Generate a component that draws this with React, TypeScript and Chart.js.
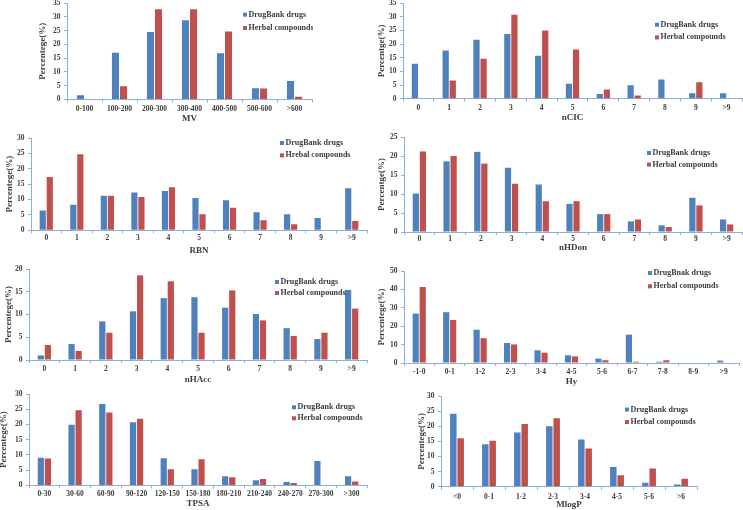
import React, { useEffect, useRef } from "react";
import { Chart, registerables } from "chart.js";

Chart.register(...registerables);

// ---------- data ----------
const DRUG_LABEL = "DrugBank drugs";
const HERB_LABEL = "Herbal compounds";

const mvCats = ["0-100", "100-200", "200-300", "300-400", "400-500", "500-600", ">600"];
const mvDrug = [1.5, 17.0, 24.5, 28.7, 16.8, 4.1, 6.7];
const mvHerb = [0, 4.8, 32.7, 32.7, 24.7, 4.0, 1.0];

const numCats = ["0", "1", "2", "3", "4", "5", "6", "7", "8", "9", ">9"];

const ncicDrug = [12.8, 17.6, 21.6, 23.7, 15.7, 5.5, 1.7, 4.9, 7.0, 2.0, 2.0];
const ncicHerb = [0, 6.7, 14.6, 30.7, 24.9, 18.0, 3.4, 1.2, 0, 6.0, 0];

const rbnDrug = [6.4, 8.3, 11.2, 12.3, 12.8, 10.5, 9.8, 5.9, 5.2, 4.0, 13.7];
const rbnHerb = [17.3, 24.7, 11.2, 10.8, 14.0, 5.2, 7.3, 3.3, 2.0, 0, 3.0];

const nhdonDrug = [10.1, 18.6, 21.1, 16.9, 12.5, 7.4, 4.7, 2.8, 1.75, 9.0, 3.3];
const nhdonHerb = [21.2, 20.0, 18.0, 12.7, 8.1, 8.1, 4.7, 3.3, 1.3, 7.0, 2.0];

const nhaccDrug = [1.0, 3.5, 8.5, 10.7, 13.6, 13.8, 11.5, 10.1, 7.0, 4.6, 15.4];
const nhaccHerb = [3.3, 2.0, 6.0, 18.6, 17.3, 6.0, 15.3, 8.7, 5.3, 6.0, 11.3];

const hyCats = ["-1-0", "0-1", "1-2", "2-3", "3-4", "4-5", "5-6", "6-7", "7-8", "8-9", ">9"];
const hyDrug = [26.8, 27.6, 18.1, 10.9, 6.9, 4.2, 2.4, 15.4, 0.7, 0.3, 1.3];
const hyHerb = [41.3, 23.4, 13.5, 10.1, 5.6, 3.6, 1.5, 0.7, 1.5, 0, 0];

const tpsaCats = ["0-30", "30-60", "60-90", "90-120", "120-150", "150-180", "180-210", "210-240", "240-270", "270-300", ">300"];
const tpsaDrug = [9.1, 19.9, 26.7, 20.7, 8.9, 5.3, 3.0, 1.7, 1.1, 8.0, 3.0];
const tpsaHerb = [8.8, 24.7, 23.9, 21.9, 5.3, 8.6, 2.7, 2.1, 0.8, 0, 1.3];

const mlogpCats = ["<0", "0-1", "1-2", "2-3", "3-4", "4-5", "5-6", ">6"];
const mlogpDrug = [24.1, 14.0, 17.9, 20.0, 15.6, 6.5, 1.3, 0.7];
const mlogpHerb = [16.0, 15.2, 20.7, 22.6, 12.6, 3.8, 6.0, 2.6];

// ---------- styles ----------
const BLUE = "#4F81BD";
const RED = "#C0504D";
const AXIS = "#8DB0DA";
const TEXT = "#3c3c3c";
const FAMILY = "'Liberation Serif', 'Times New Roman', serif";

type Panel = {
  cats: string[];
  drug: number[];
  herb: number[];
  drugLabel: string;
  herbLabel: string;
  xTitle: string;
  yTitle: string;
  yMax: number;
  step: number;
  // layout (page px)
  L: number; T: number; R: number; B: number;
  yTitleX: number; xTickY: number; xTitleY: number;
  legX: number; legY1: number; legY2: number;
};

const panels: Panel[] = [
  { cats: mvCats, drug: mvDrug, herb: mvHerb, drugLabel: DRUG_LABEL, herbLabel: HERB_LABEL, xTitle: "MV", yTitle: "Percentege(%)", yMax: 35, step: 5,
    L: 67, T: 2.7, R: 312, B: 99, yTitleX: 43, xTickY: 108.3, xTitleY: 118.5, legX: 243, legY1: 14.3, legY2: 27.7 },
  { cats: numCats, drug: ncicDrug, herb: ncicHerb, drugLabel: DRUG_LABEL, herbLabel: HERB_LABEL, xTitle: "nCIC", yTitle: "Percentge(%)", yMax: 35, step: 5,
    L: 403, T: 3.3, R: 742, B: 99, yTitleX: 381.3, xTickY: 108.3, xTitleY: 118.3, legX: 655, legY1: 25, legY2: 37.7 },
  { cats: numCats, drug: rbnDrug, herb: rbnHerb, drugLabel: DRUG_LABEL, herbLabel: "Hrebal compounds", xTitle: "RBN", yTitle: "Percentege(%)", yMax: 30, step: 5,
    L: 31, T: 138.3, R: 367, B: 230.3, yTitleX: 9.3, xTickY: 238.3, xTitleY: 251, legX: 280, legY1: 143.3, legY2: 155.7 },
  { cats: numCats, drug: nhdonDrug, herb: nhdonHerb, drugLabel: DRUG_LABEL, herbLabel: HERB_LABEL, xTitle: "nHDon", yTitle: "Percentge(%)", yMax: 25, step: 5,
    L: 404, T: 136.7, R: 742, B: 231.7, yTitleX: 382, xTickY: 238.3, xTitleY: 247.7, legX: 647, legY1: 152.7, legY2: 164.3 },
  { cats: numCats, drug: nhaccDrug, herb: nhaccHerb, drugLabel: DRUG_LABEL, herbLabel: HERB_LABEL, xTitle: "nHAcc", yTitle: "Percentege(%)", yMax: 20, step: 5,
    L: 29, T: 269.3, R: 367, B: 360, yTitleX: 8.3, xTickY: 369.3, xTitleY: 380, legX: 275, legY1: 282.3, legY2: 293.3 },
  { cats: hyCats, drug: hyDrug, herb: hyHerb, drugLabel: "DrugBnak drugs", herbLabel: HERB_LABEL, xTitle: "Hy", yTitle: "Percentege(%)", yMax: 50, step: 10,
    L: 404, T: 270.7, R: 739, B: 362.7, yTitleX: 382, xTickY: 371.7, xTitleY: 381.7, legX: 648, legY1: 272.7, legY2: 286 },
  { cats: tpsaCats, drug: tpsaDrug, herb: tpsaHerb, drugLabel: DRUG_LABEL, herbLabel: HERB_LABEL, xTitle: "TPSA", yTitle: "Percentege(%)", yMax: 30, step: 5,
    L: 29, T: 394, R: 367, B: 485.7, yTitleX: 3.3, xTickY: 494.3, xTitleY: 504.3, legX: 292, legY1: 407.3, legY2: 418.3 },
  { cats: mlogpCats, drug: mlogpDrug, herb: mlogpHerb, drugLabel: DRUG_LABEL, herbLabel: HERB_LABEL, xTitle: "MlogP", yTitle: "Percentege(%)", yMax: 30, step: 5,
    L: 441, T: 395.7, R: 697, B: 486.7, yTitleX: 422, xTickY: 496.7, xTitleY: 505, legX: 625, legY1: 409.3, legY2: 421.7 },
];

const Y_W = 70;
const TOP_PAD = 14;
const RIGHT_PAD = 1;
const TICK_LEN = 3;
const TICK_FONT = 7.5;
const TITLE_FONT = 9;

const legendPlugin = {
  id: "panelLegend",
  afterDraw(chart: any, _args: any, opts: any) {
    const ctx = chart.ctx as CanvasRenderingContext2D;
    ctx.save();
    ctx.font = `bold 8px ${FAMILY}`;
    ctx.textBaseline = "middle";
    ctx.textAlign = "left";
    chart.data.datasets.forEach((ds: any, i: number) => {
      const y = i === 0 ? opts.y1 : opts.y2;
      ctx.fillStyle = ds.backgroundColor;
      ctx.fillRect(opts.x, y - 2, 4, 4);
      ctx.fillStyle = TEXT;
      ctx.fillText(ds.label, opts.x + 5.5, y);
    });
    ctx.restore();
  },
};

function PanelChart({ p }: { p: Panel }) {
  const ref = useRef<HTMLCanvasElement>(null);
  const left = p.L - Y_W;
  const top = p.T - TOP_PAD;
  const width = Math.round(p.R + RIGHT_PAD - left);
  const bottom = p.xTitleY + 8;
  const height = Math.round(bottom - top);

  useEffect(() => {
    const titleLH = TITLE_FONT * 1.2;
    const chart = new Chart(ref.current as HTMLCanvasElement, {
      type: "bar",
      data: {
        labels: p.cats,
        datasets: [
          { label: p.drugLabel, data: p.drug, backgroundColor: BLUE, borderWidth: 0 },
          { label: p.herbLabel, data: p.herb, backgroundColor: RED, borderWidth: 0 },
        ],
      },
      plugins: [legendPlugin],
      options: {
        responsive: false,
        animation: false,
        events: [],
        datasets: { bar: { categoryPercentage: 0.46, barPercentage: 0.88 } },
        layout: { padding: { top: TOP_PAD, right: width - (p.R - left), left: 0, bottom: 0 } },
        plugins: {
          legend: { display: false },
          tooltip: { enabled: false },
          panelLegend: { x: p.legX - left, y1: p.legY1 - top, y2: p.legY2 - top },
        } as any,
        scales: {
          x: {
            type: "category",
            afterFit: (s: any) => { s.height = bottom - p.B; },
            grid: { display: true, offset: true, drawOnChartArea: false, drawTicks: true, tickLength: TICK_LEN, color: AXIS },
            border: { display: true, color: AXIS, width: 1 },
            ticks: {
              color: TEXT,
              padding: p.xTickY - p.B - TICK_LEN - TICK_FONT / 2,
              maxRotation: 0,
              autoSkip: false,
              font: { family: FAMILY, size: TICK_FONT, weight: "bold", lineHeight: 1 },
            },
            title: {
              display: true,
              text: p.xTitle,
              color: TEXT,
              padding: { top: 0, bottom: 8 - titleLH / 2 },
              font: { family: FAMILY, size: TITLE_FONT, weight: "bold" },
            },
          },
          y: {
            min: 0,
            max: p.yMax,
            afterFit: (s: any) => { s.width = Y_W; },
            grid: { display: true, drawOnChartArea: false, drawTicks: true, tickLength: TICK_LEN, color: AXIS },
            border: { display: true, color: AXIS, width: 1 },
            ticks: {
              stepSize: p.step,
              color: TEXT,
              padding: 3.5,
              font: { family: FAMILY, size: TICK_FONT, weight: "bold", lineHeight: 1 },
            },
            title: {
              display: true,
              text: p.yTitle,
              color: TEXT,
              padding: { top: p.yTitleX - left - titleLH / 2, bottom: 0 },
              font: { family: FAMILY, size: TITLE_FONT, weight: "bold" },
            },
          },
        },
      } as any,
    });
    return () => chart.destroy();
  }, []);

  return (
    <canvas
      ref={ref}
      width={width}
      height={height}
      style={{ position: "absolute", left, top, width, height }}
    />
  );
}

export default function App() {
  return (
    <div
      style={{
        position: "fixed",
        left: 0,
        top: 0,
        width: 743,
        height: 510,
        overflow: "hidden",
        background: "#ffffff",
      }}
    >
      {panels.map((p, i) => (
        <PanelChart key={i} p={p} />
      ))}
    </div>
  );
}
